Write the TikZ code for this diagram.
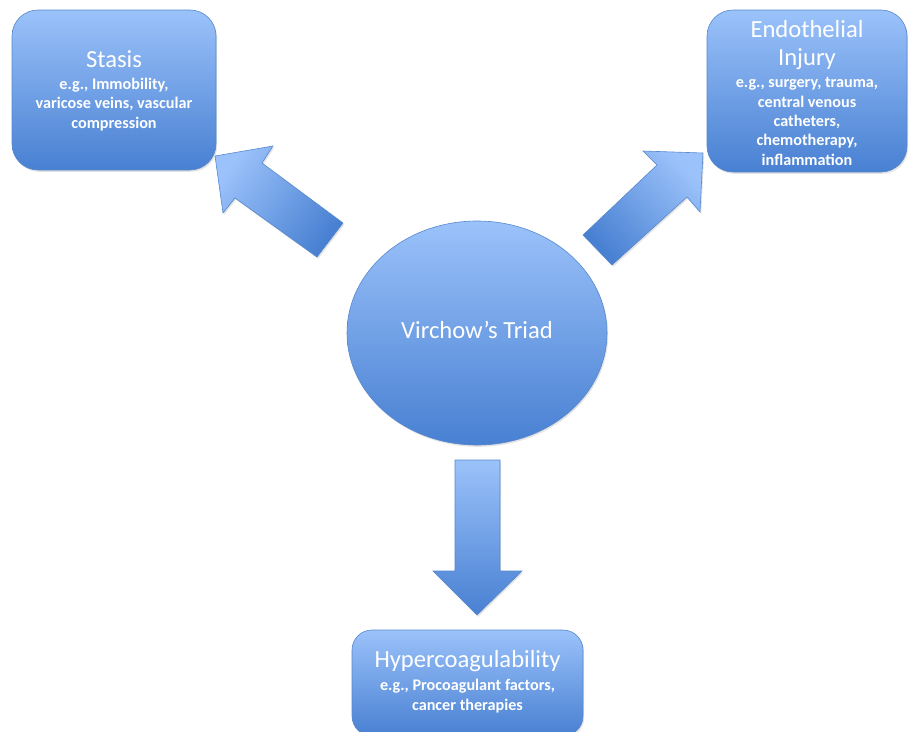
\documentclass[tikz,border=0pt]{standalone}
\usepackage{fontspec}
\setmainfont{Carlito}
\usetikzlibrary{shapes.geometric,shadows}
\definecolor{lite}{RGB}{155,194,250}
\definecolor{deep}{RGB}{72,128,210}
\definecolor{edge}{RGB}{86,136,204}
\tikzset{
  shade3d/.style={top color=lite, bottom color=deep, draw=edge, line width=0.6pt,
    drop shadow={shadow xshift=1.2pt, shadow yshift=-1.8pt, opacity=0.22}},
  boxshape/.style={shade3d, rectangle, rounded corners=26pt, inner sep=0pt},
  ttl/.style={text=white, font=\fontsize{24.6}{28}\selectfont, align=center, inner sep=0pt},
  sub/.style={text=white, font=\bfseries\fontsize{16.2}{19.3}\selectfont, align=center, inner sep=0pt},
}
\begin{document}
\begin{tikzpicture}[x=1pt,y=-1pt]
\useasboundingbox (0,0) rectangle (909,731);
\clip (0,0) rectangle (909,731);

% boxes
\node[boxshape, minimum width=204pt, minimum height=160pt] (stasis) at (114,90) {};
\node[boxshape, minimum width=200pt, minimum height=162pt] (endo) at (807,91) {};
\node[boxshape, rounded corners=20pt, minimum width=231pt, minimum height=106pt] (hyper) at (467.5,683) {};

% centre ellipse
\node[shade3d, ellipse, minimum width=260pt, minimum height=224pt, inner sep=0pt] (triad) at (477,333) {};
\node[ttl, anchor=base] (triadtxt) at (477,338) {Virchow’s Triad};

% block arrows
\path[shade3d, shading angle=54]
  (215,156) -- (273,146) -- (262,163) -- (343,223) -- (317,257) -- (235,198) -- (223,213) -- cycle;
\path[shade3d, shading angle=-47]
  (703,153) -- (643,151) -- (657,165) -- (583,235) -- (612,265) -- (687,197) -- (700,212) -- cycle;
\path[shade3d]
  (455,460) -- (500,460) -- (500,571) -- (522,571) -- (477,615) -- (433,571) -- (455,571) -- cycle;

% texts (multi-line nodes: base = baseline of last line)
\node[ttl, anchor=base] (stasisttl) at (114,67) {Stasis};
\node[sub, anchor=base] (stasissub) at (114,128) {e.g., Immobility,\\varicose veins, vascular\\compression};

\node[ttl, anchor=base] (endottl) at (807,65) {Endothelial\\Injury};
\node[sub, anchor=base] (endosub) at (807,165) {e.g., surgery, trauma,\\central venous\\catheters,\\chemotherapy,\\inflammation};

\node[ttl, anchor=base] (hyperttl) at (467.5,667) {Hypercoagulability};
\node[sub, anchor=base] (hypersub) at (467.5,710) {e.g., Procoagulant factors,\\cancer therapies};
\end{tikzpicture}
\end{document}
